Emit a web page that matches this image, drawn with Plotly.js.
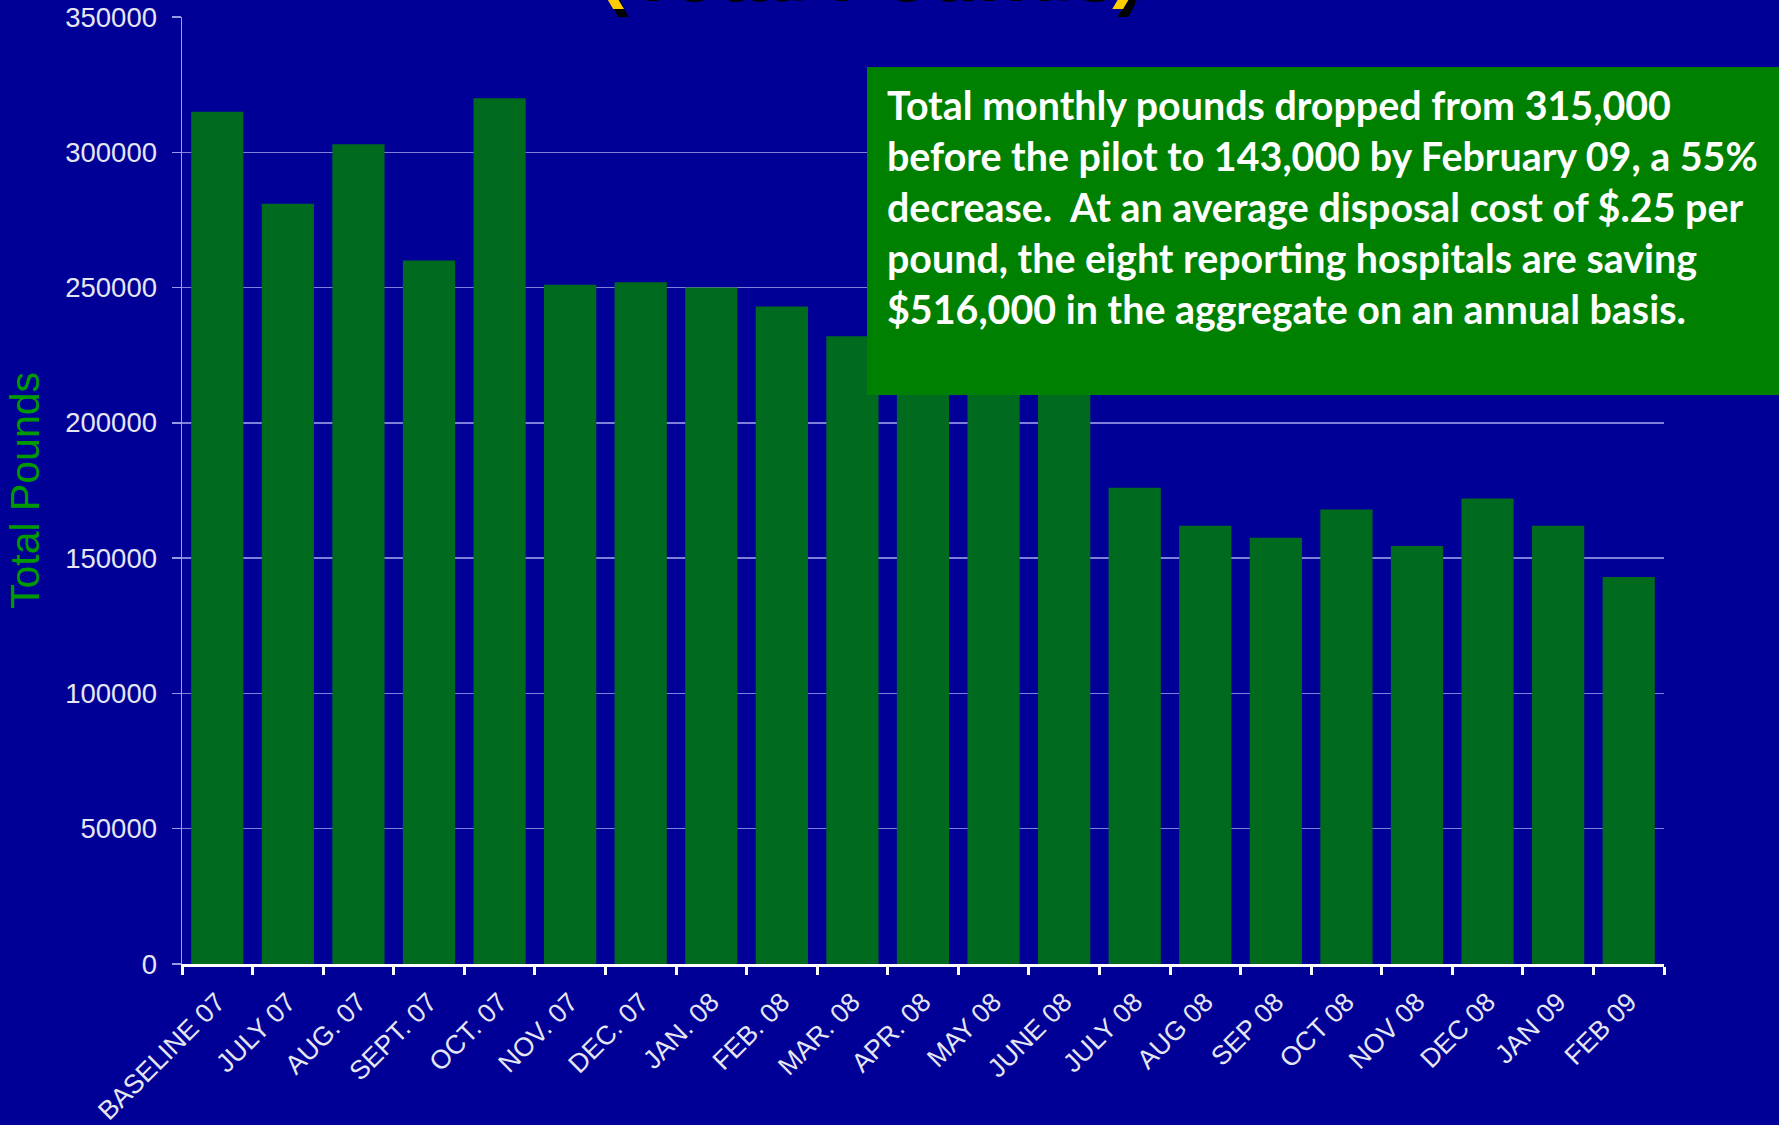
<!DOCTYPE html>
<html>
<head>
<meta charset="utf-8">
<script src="https://cdn.plot.ly/plotly-3.0.1.min.js"></script>
<style>html,body{margin:0;padding:0;background:#000096;}#chart{width:1779px;height:1125px;}</style>
</head>
<body>
<div id="chart"></div>
<script>
const months = ["BASELINE 07","JULY 07","AUG. 07","SEPT. 07","OCT. 07","NOV. 07","DEC. 07","JAN. 08","FEB. 08","MAR. 08","APR. 08","MAY 08","JUNE 08","JULY 08","AUG 08","SEP 08","OCT 08","NOV 08","DEC 08","JAN 09","FEB 09"];
const totalPounds = [315000,281000,303000,260000,320000,251000,252000,250000,243000,232000,226000,218000,222000,176000,162000,157500,168000,154500,172000,162000,143000];
const yTicks = [0,50000,100000,150000,200000,250000,300000,350000];
const titleText = "(Total Pounds)";
const noteLines = [
  "Total monthly pounds dropped from 315,000",
  "before the pilot to 143,000 by February 09, a 55%",
  "decrease.  At an average disposal cost of $.25 per",
  "pound, the eight reporting hospitals are saving",
  "$516,000 in the aggregate on an annual basis."
];

const W = 1779, H = 1125;
const mL = 182, mR = 115, mT = 17, mB = 161;
const pw = W - mL - mR, ph = H - mT - mB;
const px = x => (x - mL) / pw;
const py = y => (H - mB - y) / ph;

const annotations = noteLines.map((t, i) => ({
  text: t, xref: 'paper', yref: 'paper',
  x: px(885), y: py(104.5 + i * 51.05),
  xanchor: 'left', yanchor: 'middle', align: 'left', showarrow: false,
  font: {family: 'Lato, "Open Sans", sans-serif', size: 39.4, color: '#ffffff', weight: 700}
}));
annotations.push({
  text: titleText, xref: 'paper', yref: 'paper',
  x: px(868), y: py(11.5), xanchor: 'center', yanchor: 'bottom', showarrow: false,
  font: {family: '"Liberation Sans", Arial, sans-serif', size: 78, color: '#ffcc00', weight: 700, shadow: '5px 8px 0px #000000'}
});

const data = [{
  type: 'bar', x: months, y: totalPounds,
  marker: {color: '#006a1f', line: {width: 0}},
  hoverinfo: 'x+y'
}];

const layout = {
  width: W, height: H,
  margin: {l: mL, r: mR, t: mT, b: mB, pad: 0},
  paper_bgcolor: '#000096', plot_bgcolor: '#000096',
  showlegend: false, bargap: 0.26,
  font: {family: '"Liberation Sans", Arial, sans-serif', color: '#e6e6f2'},
  xaxis: {
    type: 'category', tickangle: -45, tickson: 'boundaries',
    ticks: 'outside', ticklen: 8, tickwidth: 3, tickcolor: '#ffffff',
    showline: true, linecolor: '#ffffff', linewidth: 3,
    showgrid: false, zeroline: false, ticklabelstandoff: 9,
    tickfont: {size: 26.5, color: '#e6e6f2'}, automargin: false
  },
  yaxis: {
    range: [0, 350000], tickvals: yTicks, ticktext: yTicks.map(String),
    ticks: 'outside', ticklen: 9, tickwidth: 1.5, tickcolor: '#9a9ae0',
    showline: true, linecolor: '#a0a0e0', linewidth: 1.5,
    showgrid: true, gridcolor: 'rgba(150,150,230,0.85)', gridwidth: 1.5,
    zeroline: false, ticklabelstandoff: 9,
    tickfont: {size: 27.5, color: '#e6e6f2'},
    title: {text: 'Total Pounds', standoff: 13, font: {size: 41, color: '#009a00'}},
    automargin: false
  },
  shapes: [{
    type: 'rect', xref: 'paper', yref: 'paper', layer: 'above',
    x0: px(867), x1: px(1790), y0: py(395), y1: py(67),
    fillcolor: '#008000', line: {width: 0}
  }],
  annotations: annotations
};

Plotly.newPlot('chart', data, layout, {displayModeBar: false, staticPlot: true});
</script>
</body>
</html>
